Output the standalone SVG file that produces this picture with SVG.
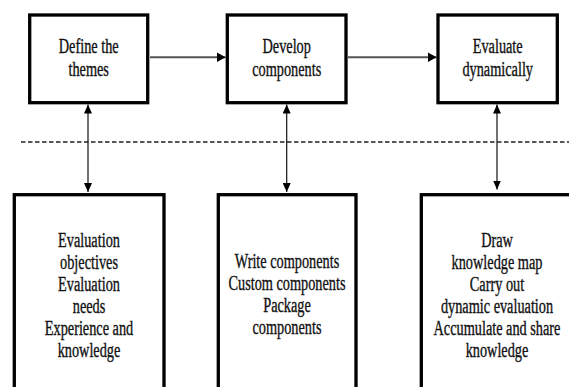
<svg xmlns="http://www.w3.org/2000/svg" width="569" height="387" viewBox="0 0 569 387">
<style>
.box{fill:#fff;stroke:#000;stroke-width:3.3}
.t{font-family:'Liberation Serif','Times New Roman',serif;font-size:14.3px;text-anchor:middle;fill:#111;stroke:#111;stroke-width:0.25}
.h{stroke:#555;stroke-width:2;fill:none}
.v{stroke:#111;stroke-width:1.2;fill:none}
.dash{stroke:#222;stroke-width:1.4;stroke-dasharray:4.5 2.5;fill:none}
</style>
<defs>
<marker id="ah" markerUnits="userSpaceOnUse" markerWidth="9" markerHeight="10" refX="9" refY="5" orient="auto">
<path d="M0,0 L9,5 L0,10 Z" fill="#000"/>
</marker>
<marker id="av" markerUnits="userSpaceOnUse" markerWidth="9" markerHeight="8" refX="9" refY="4" orient="auto-start-reverse">
<path d="M0,0 L9,4 L0,8 Z" fill="#000"/>
</marker>
</defs>
<g id="connectors">
<line class="h" x1="150" y1="57.3" x2="225.5" y2="57.3" marker-end="url(#ah)"/>
<line class="h" x1="348" y1="57.3" x2="436.5" y2="57.3" marker-end="url(#ah)"/>
<line class="v" x1="88" y1="104.5" x2="88" y2="192" marker-start="url(#av)" marker-end="url(#av)"/>
<line class="v" x1="286.7" y1="104.5" x2="286.7" y2="192" marker-start="url(#av)" marker-end="url(#av)"/>
<line class="v" x1="497" y1="104.5" x2="497" y2="189.5" marker-start="url(#av)" marker-end="url(#av)"/>
<line class="dash" x1="21" y1="142" x2="569" y2="142"/>
</g>
<g id="define">
<rect class="box" x="29.7" y="15" width="118" height="87.7"/>
<text class="t" transform="translate(88.7,53) scale(1,1.4)">Define the</text>
<text class="t" transform="translate(88.7,76) scale(1,1.4)">themes</text>
</g>
<g id="develop">
<rect class="box" x="227.3" y="15" width="118.7" height="87.7"/>
<text class="t" transform="translate(286.7,53) scale(1,1.4)">Develop</text>
<text class="t" transform="translate(286.7,76) scale(1,1.4)">components</text>
</g>
<g id="evaluate">
<rect class="box" x="438" y="15" width="119.3" height="87.7"/>
<text class="t" transform="translate(497.7,53) scale(1,1.4)">Evaluate</text>
<text class="t" transform="translate(497.7,76) scale(1,1.4)">dynamically</text>
</g>
<g id="themes-detail">
<rect class="box" x="14.3" y="194.7" width="149.7" height="220"/>
<text class="t" transform="translate(89,247) scale(1,1.4)">Evaluation</text>
<text class="t" transform="translate(89,269) scale(1,1.4)">objectives</text>
<text class="t" transform="translate(89,291) scale(1,1.4)">Evaluation</text>
<text class="t" transform="translate(89,313) scale(1,1.4)">needs</text>
<text class="t" transform="translate(89,335) scale(1,1.4)">Experience and</text>
<text class="t" transform="translate(89,357) scale(1,1.4)">knowledge</text>
</g>
<g id="components-detail">
<rect class="box" x="218.3" y="194.7" width="137.7" height="220"/>
<text class="t" transform="translate(287,268) scale(1,1.4)">Write components</text>
<text class="t" transform="translate(287,290) scale(1,1.4)">Custom components</text>
<text class="t" transform="translate(287,312) scale(1,1.4)">Package</text>
<text class="t" transform="translate(287,334) scale(1,1.4)">components</text>
</g>
<g id="evaluate-detail">
<rect class="box" x="421.3" y="194.7" width="170" height="220"/>
<text class="t" transform="translate(497,247) scale(1,1.4)">Draw</text>
<text class="t" transform="translate(497,269) scale(1,1.4)">knowledge map</text>
<text class="t" transform="translate(497,291) scale(1,1.4)">Carry out</text>
<text class="t" transform="translate(497,313) scale(1,1.4)">dynamic evaluation</text>
<text class="t" transform="translate(497,335) scale(1,1.4)">Accumulate and share</text>
<text class="t" transform="translate(497,357) scale(1,1.4)">knowledge</text>
</g>
</svg>
